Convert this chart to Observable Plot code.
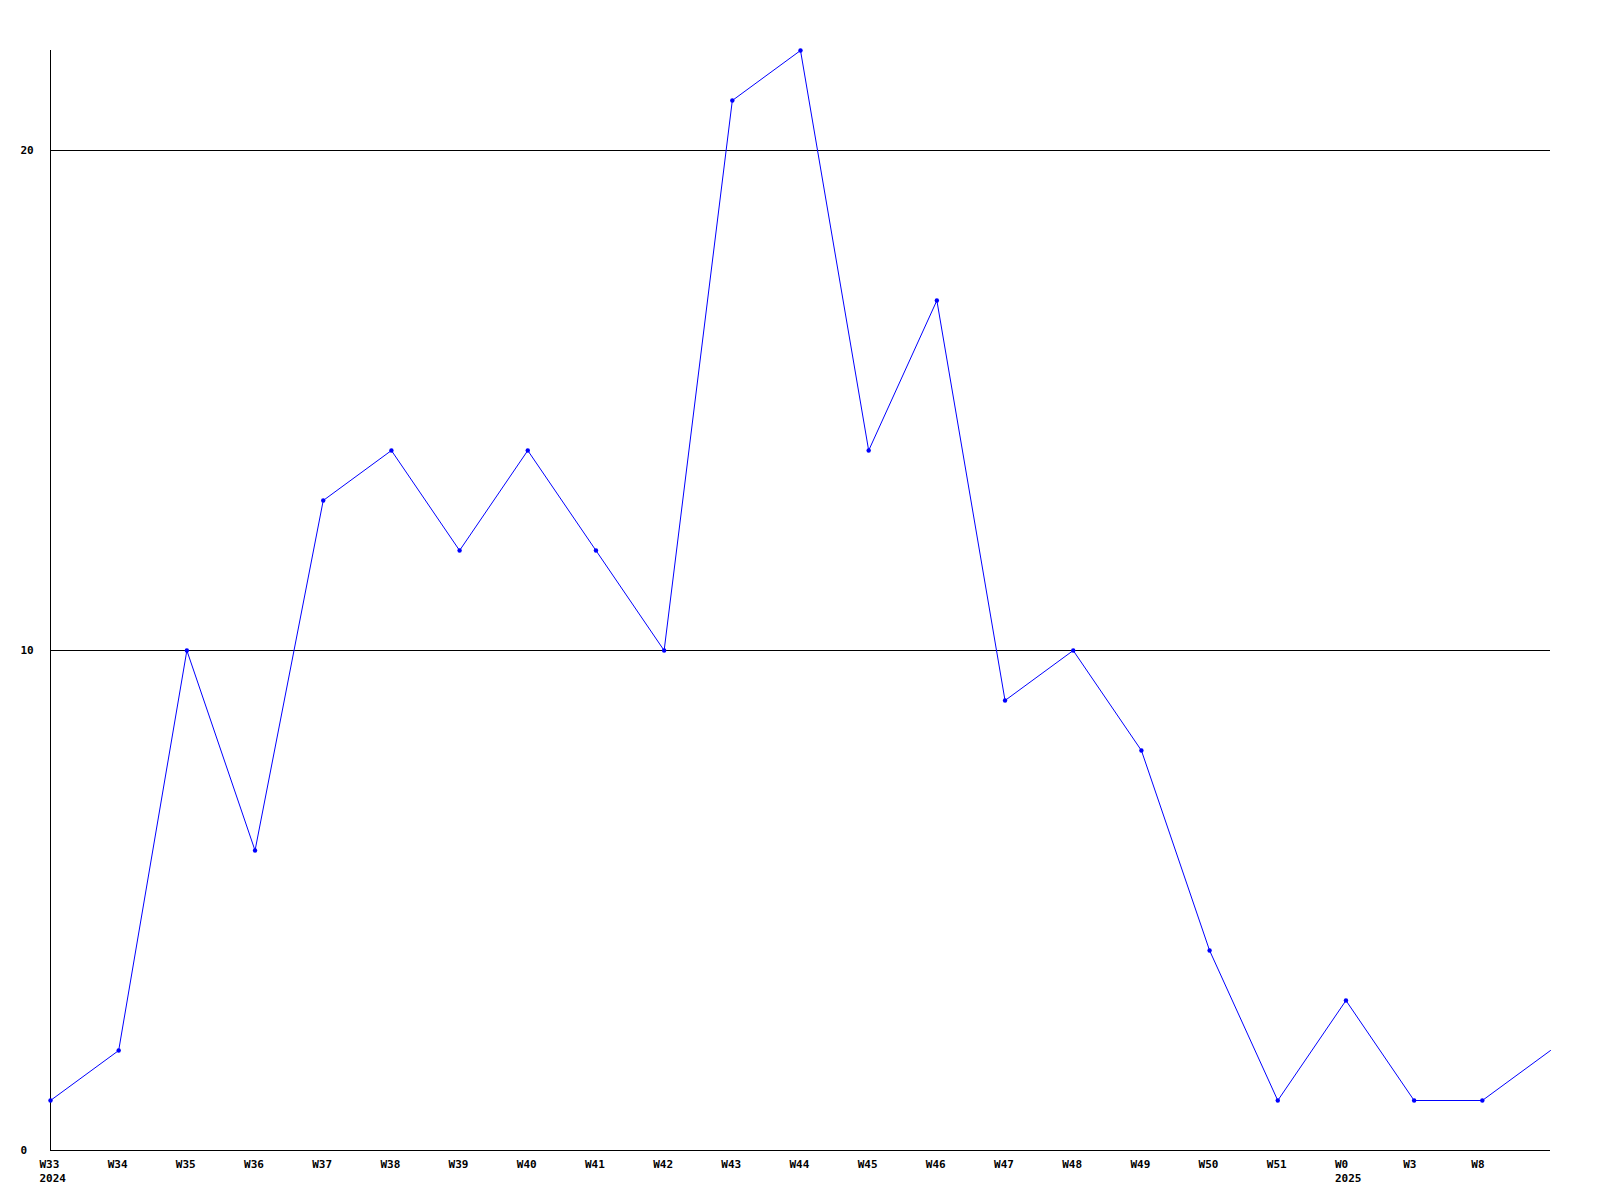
<!DOCTYPE html>
<html>
<head>
<meta charset="utf-8">
<script src="https://cdn.jsdelivr.net/npm/d3@7"></script>
<script src="https://cdn.jsdelivr.net/npm/@observablehq/plot@0.6"></script>
<style>
  html, body { margin: 0; padding: 0; background: #fff; }
  #chart svg { display: block; }
</style>
</head>
<body>
<div id="chart"></div>
<script>
// Week labels (as shown on the x axis) and the year shown under the first week of each year
const weekLabels = ["W33","W34","W35","W36","W37","W38","W39","W40","W41","W42","W43","W44","W45","W46","W47","W48","W49","W50","W51","W0","W3","W8",""];
const yearLabels = ["2024","","","","","","","","","","","","","","","","","","","2025","","",""];
// Series values (one per week, last point is an unlabeled partial period)
const values = [1,2,10,6,13,14,12,14,12,10,21,22,14,17,9,10,8,4,1,3,1,1,2];
const markedCount = 22; // points drawn with a marker
const yTicks = [0,10,20];
const gridValues = [10,20];

const data = values.map((v, i) => ({i, v, week: weekLabels[i], year: yearLabels[i]}));
const tickIdx = data.filter(d => d.week !== "").map(d => d.i);

const chart = Plot.plot({
  width: 1600,
  height: 1200,
  marginLeft: 50,
  marginRight: 50,
  marginTop: 50,
  marginBottom: 50,
  style: {fontFamily: "'DejaVu Sans Mono', monospace", fontSize: "11px", fontWeight: "bold", color: "#000", background: "#fff"},
  x: {domain: [0, values.length - 1], axis: null},
  y: {domain: [0, 22], axis: null},
  marks: [
    Plot.gridY(gridValues, {stroke: "#000", strokeOpacity: 1, strokeWidth: 1}),
    Plot.ruleX([0], {stroke: "#000", strokeWidth: 1}),
    Plot.ruleY([0], {stroke: "#000", strokeWidth: 1}),
    Plot.axisX(tickIdx, {
      label: null,
      tickSize: 0,
      tickPadding: 7,
      textAnchor: "start",
      dx: -11,
      lineHeight: 1.3,
      fill: "#000",
      tickFormat: i => data[i].year ? data[i].week + "\n" + data[i].year : data[i].week
    }),
    Plot.axisY(yTicks, {
      label: null,
      anchor: "left",
      tickSize: 0,
      tickPadding: 30,
      textAnchor: "start",
      fill: "#000",
      tickFormat: d => String(d)
    }),
    Plot.line(data, {x: "i", y: "v", stroke: "#0000ff", strokeWidth: 1}),
    Plot.dot(data.slice(0, markedCount), {x: "i", y: "v", r: 2.2, fill: "#0000ff", stroke: "none"})
  ]
});
document.getElementById("chart").appendChild(chart);
</script>
</body>
</html>
